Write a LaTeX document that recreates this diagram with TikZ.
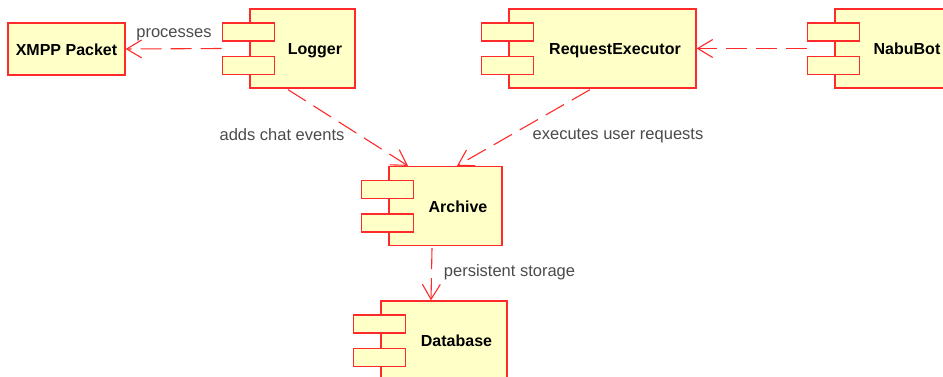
\documentclass[tikz,border=0pt]{standalone}
\usepackage{fontspec}
\setmainfont{Liberation Sans}
\usetikzlibrary{arrows.meta,calc}
\definecolor{umlred}{HTML}{FF2A2A}
\definecolor{umlfill}{HTML}{FFFFC8}
\definecolor{umllabel}{HTML}{4A4A4A}
\tikzset{
  compbody/.style={draw=umlred, fill=umlfill, line width=1.3pt, minimum height=79pt, inner sep=0pt},
  port/.style={draw=umlred, fill=umlfill, line width=1.3pt, minimum width=52pt, minimum height=18pt, inner sep=0pt},
  comptext/.style={font=\fontsize{16}{18}\selectfont\bfseries, text=black, inner sep=0pt, anchor=base},
  dep/.style={draw=umlred, line width=1.1pt, dash pattern=on 21pt off 9pt,
    -{Straight Barb[length=15pt,width=18pt,line width=1.1pt]}},
  deplabel/.style={font=\fontsize{16.5}{18}\selectfont, text=umllabel, inner sep=0pt, anchor=base}
}
% component: name, centre x, centre y, body width, title
\newcommand\umlcomponent[5]{%
  \node[compbody, minimum width=#4pt] (#1) at (#2,#3) {};
  \node[port] (#1-p1) at ([xshift=-1pt,yshift=16.5pt]#1.west) {};
  \node[port] (#1-p2) at ([xshift=-1pt,yshift=-17pt]#1.west) {};
  \node[comptext] (#1-t) at ([xshift=12.5pt,yshift=-6pt]#1.center) {#5};
}
\begin{document}
\begin{tikzpicture}[x=1pt,y=-1pt]
\useasboundingbox (0,0) rectangle (943,376);

% plain class box
\node[draw=umlred, fill=umlfill, line width=1.3pt, minimum width=117pt, minimum height=52pt,
  inner sep=0pt] (xmpp) at (66.5,49) {};
\node[comptext] (xmpp-t) at (66.5,55) {XMPP Packet};

% components
\umlcomponent{logger}{302.5}{48.5}{105}{Logger}
\umlcomponent{reqexec}{602.5}{48.5}{187}{RequestExecutor}
\umlcomponent{nabubot}{894.5}{48.5}{119}{NabuBot}
\umlcomponent{archive}{445.5}{206}{113}{Archive}
\umlcomponent{database}{444}{340.5}{126}{Database}

% dependencies
\draw[dep] (logger-p1.west |- logger.west) -- (xmpp.east);
\draw[dep] (nabubot-p1.west |- nabubot.west) -- (reqexec.east);
\draw[dep] ([xshift=-14.5pt,yshift=-1pt]logger.south) -- ([xshift=-37.5pt]archive.north);
\draw[dep] ([xshift=-12.5pt,yshift=-1pt]reqexec.south) -- ([xshift=11.5pt]archive.north);
\draw[dep] ([xshift=-13.5pt,yshift=-2pt]archive.south) -- ([xshift=-13pt]database.north);

% labels
\node[deplabel] (l1) at (174,37) {processes};
\node[deplabel] (l2) at (282,140) {adds chat events};
\node[deplabel] (l3) at (618,139) {executes user requests};
\node[deplabel] (l4) at (509.5,276) {persistent storage};
\end{tikzpicture}
\end{document}
